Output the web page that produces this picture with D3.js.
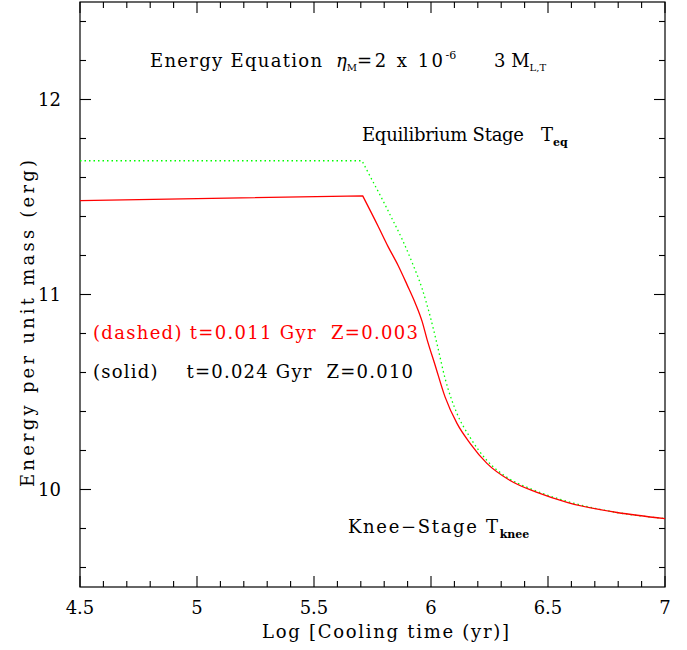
<!DOCTYPE html>
<html>
<head>
<meta charset="utf-8">
<script src="https://cdn.jsdelivr.net/npm/d3@7"></script>
<style>
body { margin: 0; background: #fff; }
text { font-family: "DejaVu Serif", serif; white-space: pre; }
</style>
</head>
<body>
<svg id="chart" width="687" height="650"></svg>
<script>
// cooling curve, t=0.024 Gyr Z=0.010 (red solid)
var solidX = [4.5, 5.708, 5.774, 5.816, 5.859, 5.897, 5.932, 5.962, 5.983, 6.017, 6.060, 6.111, 6.167, 6.239, 6.338, 6.453, 6.585, 6.795, 7.0];
var solidY = [11.481, 11.506, 11.350, 11.247, 11.150, 11.052, 10.958, 10.862, 10.770, 10.640, 10.475, 10.339, 10.237, 10.134, 10.046, 9.985, 9.933, 9.882, 9.851];

// t=0.011 Gyr Z=0.003 (green dotted)
var dottedX = [4.5, 5.705, 5.739, 5.791, 5.833, 5.876, 5.919, 5.962, 5.996, 6.026, 6.060, 6.111, 6.167, 6.239, 6.325, 6.423, 6.585, 6.795, 7.0];
var dottedY = [11.686, 11.686, 11.608, 11.490, 11.390, 11.285, 11.165, 11.030, 10.890, 10.745, 10.570, 10.390, 10.267, 10.149, 10.062, 10.005, 9.938, 9.882, 9.851];

var xTicks = [4.5, 5, 5.5, 6, 6.5, 7];
var yTicks = [10, 11, 12];

var svg = d3.select('#chart');
var pLeft = 80, pRight = 665, pTop = 2, pBottom = 587;

var x = d3.scaleLinear().domain([4.5, 7]).range([pLeft, pRight]);
var y = d3.scaleLinear().domain([9.5, 12.5]).range([pBottom, pTop]);

var majLen = 11, minLen = 6;

// frame
svg.append('rect')
	.attr('x', pLeft).attr('y', pTop)
	.attr('width', pRight - pLeft).attr('height', pBottom - pTop)
	.attr('fill', 'none').attr('stroke', '#000').attr('stroke-width', 1.2);

//ticks on all four sides, pointing inwards
var xMinor = d3.range(45, 71).map(function(d){return d / 10;});
var yMinor = d3.range(96, 126, 2).map(function(d){return d / 10;});

var ticks = svg.append('g').attr('stroke', '#000').attr('stroke-width', 1.1);
xMinor.forEach(function(v){
	var len = Math.abs(v * 2 - Math.round(v * 2)) < 1e-6 ? majLen : minLen;
	ticks.append('line').attr('x1', x(v)).attr('x2', x(v)).attr('y1', pBottom).attr('y2', pBottom - len);
	ticks.append('line').attr('x1', x(v)).attr('x2', x(v)).attr('y1', pTop).attr('y2', pTop + len);
});
yMinor.forEach(function(v){
	var len = Math.abs(v - Math.round(v)) < 1e-6 ? majLen : minLen;
	ticks.append('line').attr('y1', y(v)).attr('y2', y(v)).attr('x1', pLeft).attr('x2', pLeft + len);
	ticks.append('line').attr('y1', y(v)).attr('y2', y(v)).attr('x1', pRight).attr('x2', pRight - len);
});

// tick labels
svg.append('g').selectAll('text').data(xTicks).enter().append('text')
	.attr('x', function(d){return x(d);})
	.attr('y', 614)
	.attr('text-anchor', 'middle')
	.attr('font-size', 18)
	.text(function(d){return d;});

svg.append('g').selectAll('text').data(yTicks).enter().append('text')
	.attr('x', 61)
	.attr('y', function(d){return y(d) + 6;})
	.attr('text-anchor', 'end')
	.attr('font-size', 18)
	.text(function(d){return d;});

// axis titles
svg.append('text')
	.attr('x', 262).attr('y', 638)
	.attr('font-size', 18)
	.attr('textLength', 247).attr('lengthAdjust', 'spacing')
	.text('Log [Cooling time (yr)]');

svg.append('text')
	.attr('transform', 'translate(34,487) rotate(-90)')
	.attr('font-size', 18)
	.attr('textLength', 327).attr('lengthAdjust', 'spacing')
	.text('Energy per unit mass (erg)');

// curves: straight plateau, then a smooth drop from the break point
var flat = d3.line()
	.x(function(d){return x(d[0]);})
	.y(function(d){return y(d[1]);});
var drop = d3.line()
	.curve(d3.curveMonotoneX)
	.x(function(d){return x(d[0]);})
	.y(function(d){return y(d[1]);});

function curvePath(pts){
	return flat(pts.slice(0, 2)) + drop(pts.slice(1)).replace(/^M/, 'L');
}

svg.append('path')
	.attr('d', curvePath(d3.zip(dottedX, dottedY)))
	.attr('fill', 'none').attr('stroke', '#00ff00').attr('stroke-width', 1.3)
	.attr('stroke-dasharray', '1.5,3');

svg.append('path')
	.attr('d', curvePath(d3.zip(solidX, solidY)))
	.attr('fill', 'none').attr('stroke', '#ff0000').attr('stroke-width', 1.3);

// annotations
var t1 = svg.append('text').attr('x', 150).attr('y', 67).attr('font-size', 18);
t1.append('tspan').attr('textLength', 172).attr('lengthAdjust', 'spacing').text('Energy Equation');
t1.append('tspan').attr('x', 336).attr('font-style', 'italic').text('\u03b7');
t1.append('tspan').attr('font-size', 10).attr('dy', 4).text('M');
t1.append('tspan').attr('dy', -4).attr('textLength', 86).attr('lengthAdjust', 'spacing').text('=2 x 10');
t1.append('tspan').attr('font-size', 11).attr('dy', -8).text('-6');
t1.append('tspan').attr('x', 494).attr('dy', 8).text('3 M');
t1.append('tspan').attr('font-size', 10).attr('dy', 4).text('L,T');

var t2 = svg.append('text').attr('x', 362).attr('y', 141).attr('font-size', 18);
t2.append('tspan').attr('textLength', 162).attr('lengthAdjust', 'spacing').text('Equilibrium Stage');
t2.append('tspan').attr('x', 541).text('T');
t2.append('tspan').attr('font-size', 11).attr('font-weight', 'bold').attr('dy', 5).text('eq');

var t3 = svg.append('text').attr('x', 348).attr('y', 533).attr('font-size', 18);
t3.append('tspan').attr('textLength', 150).attr('lengthAdjust', 'spacing').text('Knee\u2212Stage T');
t3.append('tspan').attr('font-size', 11).attr('font-weight', 'bold').attr('dy', 5).text('knee');

svg.append('text').attr('x', 93).attr('y', 339).attr('font-size', 18)
	.attr('fill', '#ff0000')
	.attr('textLength', 325).attr('lengthAdjust', 'spacing')
	.text('(dashed) t=0.011 Gyr  Z=0.003');

svg.append('text').attr('x', 93).attr('y', 378).attr('font-size', 18)
	.attr('fill', '#000')
	.attr('textLength', 320).attr('lengthAdjust', 'spacing')
	.text('(solid)    t=0.024 Gyr  Z=0.010');
</script>
</body>
</html>
